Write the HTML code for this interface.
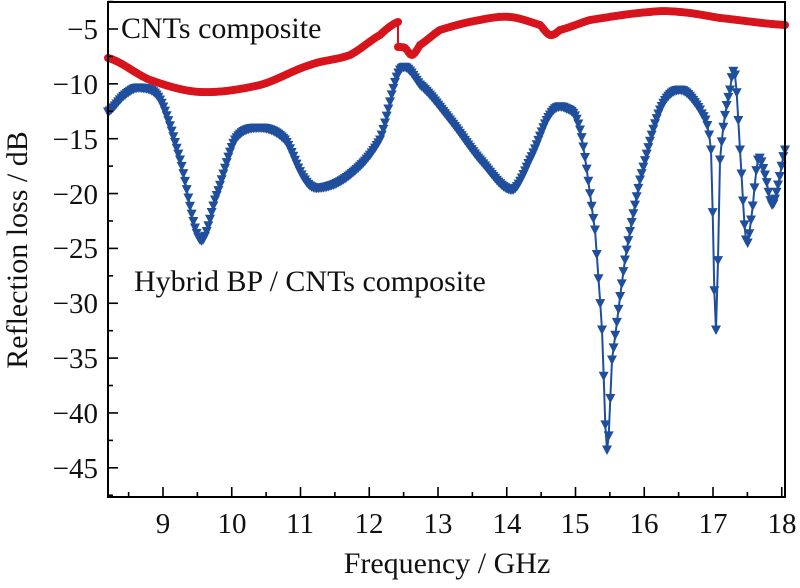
<!DOCTYPE html>
<html><head><style>
html,body{margin:0;padding:0;background:#fff;}
svg, svg text{font-family:"Liberation Serif","DejaVu Serif",serif;}
</style></head><body>
<svg id="s" width="800" height="583" viewBox="0 0 800 583" font-family="Liberation Serif, DejaVu Serif, serif">
<g id="g"></g>
<rect x="108" y="2" width="677" height="495" fill="none" stroke="#000" stroke-width="2"/>
<g id="ax" stroke="#000" stroke-width="1.6"></g>
<g fill="#111" font-size="29" text-anchor="middle">
<text x="163" y="533" font-size="29">9</text>
<text x="232" y="533" font-size="29">10</text>
<text x="300" y="533" font-size="29">11</text>
<text x="369" y="533" font-size="29">12</text>
<text x="438" y="533" font-size="29">13</text>
<text x="507" y="533" font-size="29">14</text>
<text x="575" y="533" font-size="29">15</text>
<text x="644" y="533" font-size="29">16</text>
<text x="713" y="533" font-size="29">17</text>
<text x="782" y="533" font-size="29">18</text>
</g>
<g fill="#111" font-size="29" text-anchor="end">
<text x="98" y="39" font-size="29">−5</text>
<text x="98" y="94" font-size="29">−10</text>
<text x="98" y="149" font-size="29">−15</text>
<text x="98" y="204" font-size="29">−20</text>
<text x="98" y="258" font-size="29">−25</text>
<text x="98" y="313" font-size="29">−30</text>
<text x="98" y="368" font-size="29">−35</text>
<text x="98" y="423" font-size="29">−40</text>
<text x="98" y="478" font-size="29">−45</text>
</g>
<text x="121" y="38" font-size="30" fill="#111">CNTs composite</text>
<text x="134" y="291" font-size="30" fill="#111">Hybrid BP / CNTs composite</text>
<text x="447" y="573" font-size="30" fill="#111" text-anchor="middle">Frequency / GHz</text>
<text transform="translate(27,250) rotate(-90)" font-size="30" fill="#111" text-anchor="middle">Reflection loss / dB</text>
</svg>
<script>
var NS="http://www.w3.org/2000/svg";
function el(t,a,p){var e=document.createElementNS(NS,t);for(var k in a)e.setAttribute(k,a[k]);(p||document.getElementById('g')).appendChild(e);return e;}
var ax=document.getElementById('ax');
function X(f){return 108+(f-8.2)*68.75;}
function Y(v){return 29+(-5-v)*10.97;}
for(var f=8.5;f<=18.01;f+=0.5){var x=X(f),maj=Math.abs(f-Math.round(f))<0.01;el('line',{x1:x,y1:497,x2:x,y2:497-(maj?10:5)},ax);}
for(var v=-47.5;v<=-2.5;v+=2.5){var y=Y(v),maj=Math.abs(v%5)<0.01;el('line',{x1:108,y1:y,x2:108+(maj?10:5),y2:y},ax);}
function cr(pts,step){var out=[];for(var i=0;i<pts.length-1;i++){var p0=pts[Math.max(0,i-1)],p1=pts[i],p2=pts[i+1],p3=pts[Math.min(pts.length-1,i+2)];
var n=Math.max(1,Math.round((p2[0]-p1[0])/step));for(var j=0;j<n;j++){var t=j/n,t2=t*t,t3=t2*t;
var y=0.5*((2*p1[1])+(-p0[1]+p2[1])*t+(2*p0[1]-5*p1[1]+4*p2[1]-p3[1])*t2+(-p0[1]+3*p1[1]-3*p2[1]+p3[1])*t3);
out.push([p1[0]+(p2[0]-p1[0])*t,y]);}}out.push(pts[pts.length-1]);return out;}
var red1=[[108,58],[150,80],[200,92],[260,85],[310,65],[350,55],[380,35],[398,22]];
var red2=[[398,47],[405,48],[412,55],[420,45],[440,30],[480,20],[510,17],[540,25],[550,35],[560,30],[590,20],[650,12],[680,12],[720,18],[785,25]];
var blue=[[108,112],[125,95],[140,88],[160,100],[180,160],[200,240],[215,200],[235,140],[260,128],[285,140],[305,180],[320,188],[350,175],[380,140],[400,70],[420,85],[450,120],[480,160],[512,190],[530,160],[550,115],[565,108],[580,130],[595,230],[602,330],[607,450],[612,360],[625,260],[640,180],[660,110],[680,90],[700,110],[711,150],[716,330],[720,160],[730,90],[735,75],[740,150],[746,240],[751,220],[758,160],[765,175],[772,205],[778,185],[785,150]];
function line(p,c,w){el('polyline',{points:p.map(function(q){return q[0].toFixed(1)+','+q[1].toFixed(1)}).join(' '),fill:'none',stroke:c,'stroke-width':w});}
var r1=cr(red1,1.7),r2=cr(red2,1.7);
line(r1,'#d7141c',2);line(r2,'#d7141c',2);el('line',{x1:398,y1:22,x2:398,y2:47,stroke:'#d7141c','stroke-width':2});
r1.concat(r2).forEach(function(q){el('circle',{cx:q[0],cy:q[1],r:4,fill:'#d7141c'});});
var b=cr(blue,1.7);line(b,'#1f4e9c',2);
b.forEach(function(q){var x=q[0],y=q[1];el('polygon',{points:(x-5)+','+(y-4.5)+' '+(x+5)+','+(y-4.5)+' '+x+','+(y+5),fill:'#1f4e9c'});});
</script>
</body></html>
